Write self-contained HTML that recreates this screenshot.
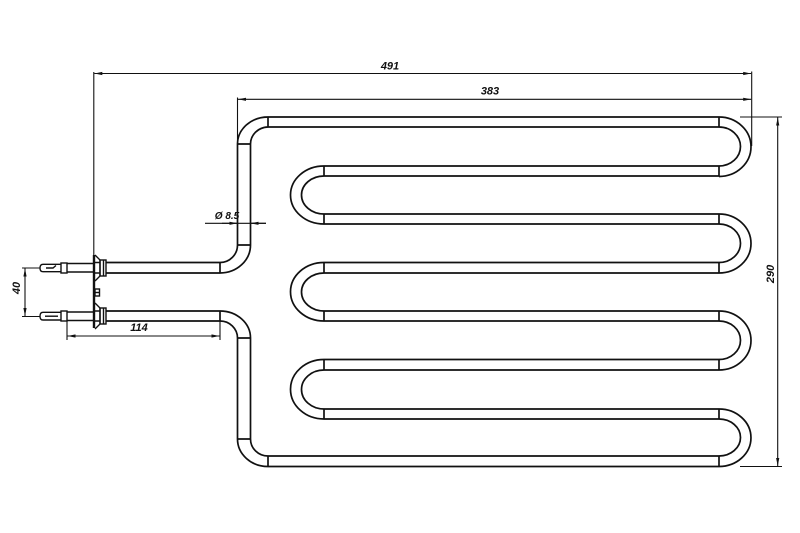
<!DOCTYPE html>
<html>
<head>
<meta charset="utf-8">
<style>
html,body{margin:0;padding:0;background:#fff;}
svg{display:block;}
text{font-family:"Liberation Sans",sans-serif;font-weight:bold;font-style:italic;fill:#111;}
</style>
</head>
<body>
<svg width="800" height="533" viewBox="0 0 800 533" xmlns="http://www.w3.org/2000/svg">
<rect width="800" height="533" fill="#fff"/>
<defs>
<marker id="a" markerWidth="8" markerHeight="4" refX="8" refY="2" orient="auto" markerUnits="userSpaceOnUse">
<path d="M0,0.4 L8,2 L0,3.6 Z" fill="#111"/>
</marker>
</defs>

<!-- Tubes -->
<g fill="none" stroke="#111" stroke-width="1.7">
<path d="M268 117H719 M268 127H719"/>
<path d="M324 166H719 M324 176H719"/>
<path d="M324 214H719 M324 224H719"/>
<path d="M324 262.5H719 M324 273H719"/>
<path d="M324 311H719 M324 321H719"/>
<path d="M324 359.5H719 M324 370H719"/>
<path d="M324 409H719 M324 419H719"/>
<path d="M268 456H719 M268 466.5H719"/>

<path d="M719 117A32 29.75 0 0 1 719 176.5 M719 127A21.5 19.5 0 0 1 719 166"/>
<path d="M719 214A32 29.5 0 0 1 719 273 M719 224A21.5 19.25 0 0 1 719 262.5"/>
<path d="M719 311A32 29.5 0 0 1 719 370 M719 321A21.5 19.25 0 0 1 719 359.5"/>
<path d="M719 409A32 28.75 0 0 1 719 466.5 M719 419A21.5 18.5 0 0 1 719 456"/>
<path d="M719 117V127 M719 166V176 M719 214V224 M719 262.5V273 M719 311V321 M719 359.5V370 M719 409V419 M719 456V466.5"/>

<path d="M324 166A33.5 29 0 0 0 324 224 M324 176A22.5 19 0 0 0 324 214"/>
<path d="M324 262.5A33.5 29.25 0 0 0 324 321 M324 273A22.5 19 0 0 0 324 311"/>
<path d="M324 359.5A33.5 29.75 0 0 0 324 419 M324 370A22.5 19.5 0 0 0 324 409"/>
<path d="M324 166V176 M324 214V224 M324 262.5V273 M324 311V321 M324 359.5V370 M324 409V419"/>

<path d="M268 117A30.5 27 0 0 0 237.5 144 M268 127A18 17 0 0 0 250.5 144"/>
<path d="M268 117V127"/>
<path d="M237.5 144V245 M250.5 144V245 M237.5 144H250.5 M237.5 245H250.5"/>
<path d="M237.5 245A17.5 17.5 0 0 1 220 262.5 M250.5 245A30.5 28 0 0 1 220 273"/>
<path d="M220 262.5V273"/>
<path d="M106 262.5H220 M106 273H220"/>
<path d="M220 311A30.5 27 0 0 1 250.5 338 M220 321A17.5 17 0 0 1 237.5 338"/>
<path d="M220 311V321"/>
<path d="M106 311H220 M106 321H220"/>
<path d="M237.5 338V439 M250.5 338V439 M237.5 338H250.5 M237.5 439H250.5"/>
<path d="M237.5 439A30.5 27.5 0 0 0 268 466.5 M250.5 439A17.5 17 0 0 0 268 456"/>
<path d="M268 456V466.5"/>
</g>

<!-- Flange & terminals -->
<g fill="none" stroke="#111" stroke-width="1.4">
<rect x="92.8" y="255" width="2.4" height="73" fill="#111" stroke="none"/>
<path d="M95 255L100 260V276L95 281"/>
<path d="M95 262.5H100 M95 273H100"/>
<rect x="100" y="260" width="6" height="16"/>
<path d="M103.5 260V276"/>
<path d="M95 303L100 308V324L95 329"/>
<path d="M95 311H100 M95 321H100"/>
<rect x="100" y="308" width="6" height="16"/>
<path d="M103.5 308V324"/>
<rect x="95" y="289" width="4.5" height="7"/>
<path d="M95 292.5H99.5"/>
<path d="M67 263.5H93 M67 272H93"/>
<rect x="61" y="263" width="6" height="10"/>
<path d="M61 264.3H43 Q40 264.3 40 268 Q40 271.7 43 271.7H61"/>
<path d="M46 268H53 L56 265.5"/>
<path d="M67 312H93 M67 320.5H93"/>
<rect x="61" y="311" width="6" height="10"/>
<path d="M61 312.3H43 Q40 312.3 40 316.2 Q40 320 43 320H61"/>
<path d="M45 316.2H58"/>
</g>

<!-- Dimension lines -->
<g fill="none" stroke="#111" stroke-width="1.1">
<path d="M93.8 72V255"/>
<path d="M751.7 71.5V146"/>
<line x1="120" y1="73.5" x2="94.3" y2="73.5" marker-end="url(#a)"/>
<line x1="120" y1="73.5" x2="751.2" y2="73.5" marker-end="url(#a)"/>
<path d="M237.5 97.5V144"/>
<line x1="300" y1="99.3" x2="238" y2="99.3" marker-end="url(#a)"/>
<line x1="300" y1="99.3" x2="751.2" y2="99.3" marker-end="url(#a)"/>
<path d="M740 117H782 M740 466.5H782"/>
<line x1="777.7" y1="300" x2="777.7" y2="117.5" marker-end="url(#a)"/>
<line x1="777.7" y1="300" x2="777.7" y2="466" marker-end="url(#a)"/>
<path d="M205 223.3H266"/>
<line x1="222" y1="223.3" x2="237.5" y2="223.3" marker-end="url(#a)"/>
<line x1="266" y1="223.3" x2="250.5" y2="223.3" marker-end="url(#a)"/>
<path d="M22 268H40 M22 316.5H40"/>
<line x1="25" y1="290" x2="25" y2="268.5" marker-end="url(#a)"/>
<line x1="25" y1="290" x2="25" y2="316" marker-end="url(#a)"/>
<path d="M67 321V340 M220 321V340"/>
<line x1="140" y1="336" x2="67.5" y2="336" marker-end="url(#a)"/>
<line x1="140" y1="336" x2="219.5" y2="336" marker-end="url(#a)"/>
</g>

<!-- Labels -->
<text x="390" y="69.5" font-size="11" text-anchor="middle">491</text>
<text x="490" y="94.5" font-size="11" text-anchor="middle">383</text>
<text x="139" y="331" font-size="11" text-anchor="middle">114</text>
<text x="227" y="219" font-size="10" text-anchor="middle">Ø 8.5</text>
<text transform="translate(20 288) rotate(-90)" font-size="11" text-anchor="middle">40</text>
<text transform="translate(774 274) rotate(-90)" font-size="11" text-anchor="middle">290</text>
</svg>
</body>
</html>
